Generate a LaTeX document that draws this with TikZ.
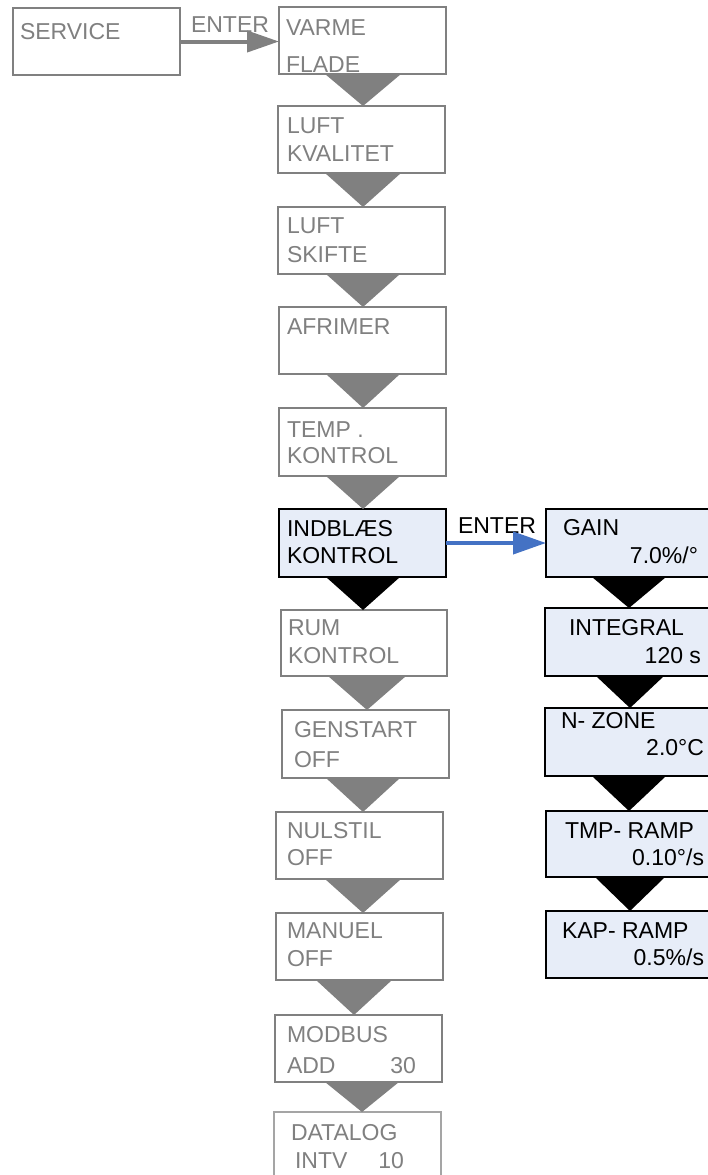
\documentclass[tikz,border=0pt]{standalone}
\usepackage{fontspec}
\setmainfont{Liberation Sans}
\usetikzlibrary{arrows.meta,calc}
\definecolor{mgray}{RGB}{128,128,128}
\definecolor{lgray}{RGB}{165,165,165}
\definecolor{lblue}{RGB}{231,237,248}
\definecolor{ablue}{RGB}{68,114,196}
\newcommand\mytri[5]{\fill[#5] let \p1=(#1.south), \p2=(#2.north) in (#3pt-#4pt,\y1) -- (#3pt+#4pt,\y1) -- (#3pt,\y2) -- cycle;}
\begin{document}
\begin{tikzpicture}[x=1pt,y=-1pt,
  boxbase/.style={anchor=north west, inner sep=0pt, outer sep=0pt, minimum width=167pt, minimum height=67pt},
  gbox/.style={boxbase, draw=mgray, line width=2.6pt, fill=white},
  dbox/.style={boxbase, draw=lgray, line width=1.4pt, fill=white},
  kbox/.style={boxbase, draw=black, line width=2.6pt, fill=lblue},
  txtbase/.style={inner sep=0pt, outer sep=0pt, font=\fontsize{23}{23}\selectfont},
  gtxt/.style={txtbase, text=mgray, anchor=base west},
  gtxtr/.style={txtbase, text=mgray, anchor=base east},
  ktxt/.style={txtbase, text=black, anchor=base west},
  ktxtr/.style={txtbase, text=black, anchor=base east},
  garrow/.style={draw=mgray, line width=4pt, -{Triangle[length=32pt,width=21pt]}},
  barrow/.style={draw=ablue, line width=4pt, -{Triangle[length=33pt,width=22pt]}},
]
\useasboundingbox (0,0) rectangle (708,1175);
% left
\node[gbox] (serv) at (13,8) {};
\node[gtxt] (servt) at (20,39) {SERVICE};
% main column boxes
\node[gbox] (b1) at (279,7) {};
\node[gbox] (b2) at (278,106) {};
\node[gbox] (b3) at (278,207) {};
\node[gbox] (b4) at (279,307) {};
\node[gbox, minimum height=68pt] (b5) at (279,408) {};
\node[kbox, minimum height=68pt] (b6) at (279,509) {};
\node[gbox, minimum height=66pt, minimum width=166pt] (b7) at (281,610) {};
\node[gbox, minimum height=68pt] (b8) at (282,710) {};
\node[gbox] (b9) at (276,812) {};
\node[gbox] (b10) at (276,913) {};
\node[gbox] (b11) at (275,1015) {};
\node[dbox, minimum height=90pt] (b12) at (274,1112) {};
% right column boxes
\node[kbox, minimum height=68pt] (r1) at (546,509) {};
\node[kbox, minimum height=68pt] (r2) at (545,608) {};
\node[kbox, minimum height=68pt] (r3) at (545,708) {};
\node[kbox, minimum height=66pt] (r4) at (546,811) {};
\node[kbox] (r5) at (546,911) {};
% main column texts
\node[gtxt] (b1a) at (286,35) {VARME};
\node[gtxt] (b1b) at (286,72) {FLADE};
\node[gtxt] (b2a) at (287,133) {LUFT};
\node[gtxt] (b2b) at (287,161) {KVALITET};
\node[gtxt] (b3a) at (287,233) {LUFT};
\node[gtxt] (b3b) at (287,262) {SKIFTE};
\node[gtxt] (b4a) at (287,334) {AFRIMER};
\node[gtxt] (b5a) at (287,437) {TEMP .};
\node[gtxt] (b5b) at (287,463) {KONTROL};
\node[ktxt] (b6a) at (287,536) {INDBLÆS};
\node[ktxt] (b6b) at (287,563) {KONTROL};
\node[gtxt] (b7a) at (288,635) {RUM};
\node[gtxt] (b7b) at (288,663) {KONTROL};
\node[gtxt] (b8a) at (294,737) {GENSTART};
\node[gtxt] (b8b) at (294,767) {OFF};
\node[gtxt] (b9a) at (287,838) {NULSTIL};
\node[gtxt] (b9b) at (287,865) {OFF};
\node[gtxt] (b10a) at (287,938) {MANUEL};
\node[gtxt] (b10b) at (287,966) {OFF};
\node[gtxt] (b11a) at (287,1042) {MODBUS};
\node[gtxt] (b11b) at (287,1073) {ADD};
\node[gtxtr] (b11c) at (416,1073) {30};
\node[gtxt] (b12a) at (291,1140) {DATALOG};
\node[gtxt] (b12b) at (295,1168) {INTV};
\node[gtxtr] (b12c) at (404,1168) {10};
% right column texts
\node[ktxt] (r1a) at (563,535) {GAIN};
\node[ktxtr] (r1b) at (698,563) {7.0\%/°};
\node[ktxt] (r2a) at (569,635) {INTEGRAL};
\node[ktxtr] (r2b) at (701,663) {120 s};
\node[ktxt] (r3a) at (561,728) {N- ZONE};
\node[ktxtr] (r3b) at (704,755) {2.0°C};
\node[ktxt] (r4a) at (565,838) {TMP- RAMP};
\node[ktxtr] (r4b) at (704,865) {0.10°/s};
\node[ktxt] (r5a) at (562,938) {KAP- RAMP};
\node[ktxtr] (r5b) at (704,965) {0.5\%/s};
% triangles main column
\mytri{b1}{b2}{363}{38}{mgray}
\mytri{b2}{b3}{363}{38}{mgray}
\mytri{b3}{b4}{363}{37}{mgray}
\mytri{b4}{b5}{363}{37}{mgray}
\mytri{b5}{b6}{363}{37}{mgray}
\mytri{b6}{b7}{363}{37}{black}
\mytri{b7}{b8}{367}{39}{mgray}
\mytri{b8}{b9}{363}{37}{mgray}
\mytri{b9}{b10}{363}{38}{mgray}
\mytri{b10}{b11}{354}{38}{mgray}
\mytri{b11}{b12}{362}{37}{mgray}
% triangles right column
\mytri{r1}{r2}{629}{37}{black}
\mytri{r2}{r3}{630}{34}{black}
\mytri{r3}{r4}{629}{37}{black}
\mytri{r4}{r5}{630}{35}{black}
% ENTER arrows
\node[gtxt] (ent1) at (191,32) {ENTER};
\draw[garrow] (serv.east) -- (b1.west |- serv.east);
\node[ktxt] (ent2) at (458,533) {ENTER};
\draw[barrow] (b6.east) -- (r1.west);
\end{tikzpicture}
\end{document}
